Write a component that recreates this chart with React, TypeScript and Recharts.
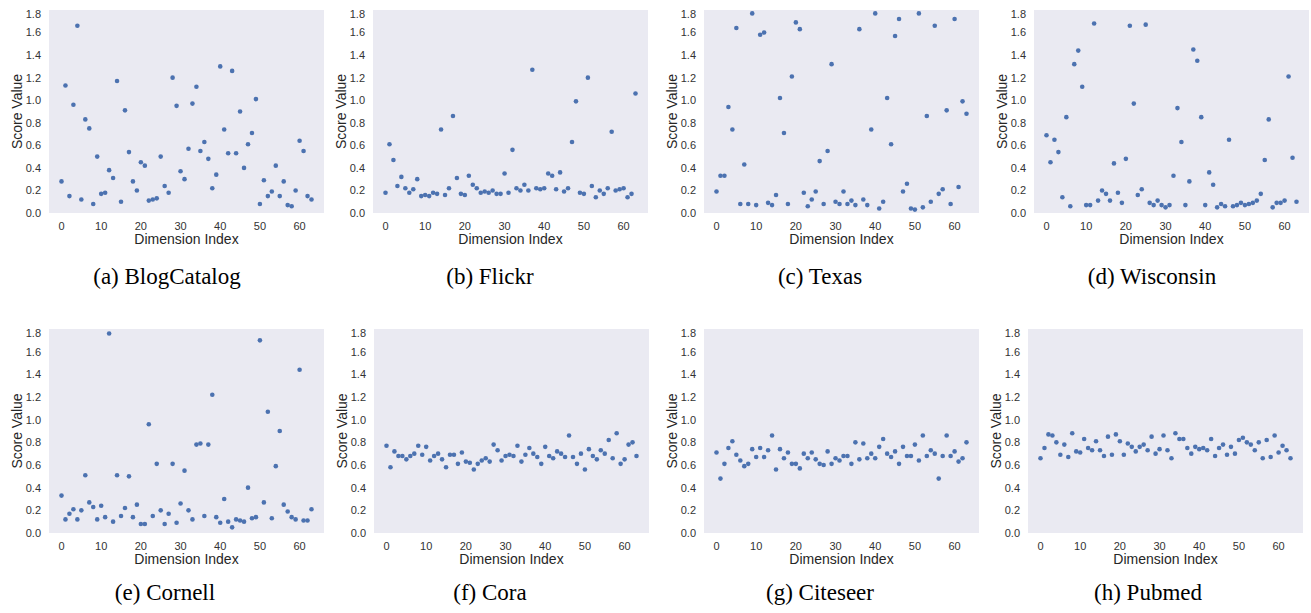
import React from 'react';
import { ScatterChart, Scatter, XAxis, YAxis, CartesianGrid } from 'recharts';

// score per embedding dimension (index 0..63)
const blogCatalog = [
  0.28, 1.13, 0.15, 0.96, 1.66, 0.12, 0.83, 0.75, 0.08, 0.5, 0.17, 0.18, 0.38, 0.31, 1.17, 0.1,
  0.91, 0.54, 0.28, 0.2, 0.45, 0.42, 0.11, 0.12, 0.13, 0.5, 0.24, 0.18, 1.2, 0.95, 0.37, 0.3,
  0.57, 0.97, 1.12, 0.55, 0.63, 0.48, 0.22, 0.34, 1.3, 0.74, 0.53, 1.26, 0.53, 0.9, 0.4, 0.61,
  0.71, 1.01, 0.08, 0.29, 0.15, 0.19, 0.42, 0.15, 0.28, 0.07, 0.06, 0.2, 0.64, 0.55, 0.15, 0.12,
];
const flickr = [
  0.18, 0.61, 0.47, 0.24, 0.32, 0.22, 0.18, 0.21, 0.3, 0.15, 0.16, 0.15, 0.18, 0.17, 0.74, 0.16,
  0.22, 0.86, 0.31, 0.17, 0.16, 0.33, 0.25, 0.22, 0.18, 0.19, 0.18, 0.2, 0.17, 0.17, 0.35, 0.18,
  0.56, 0.22, 0.2, 0.25, 0.2, 1.27, 0.22, 0.21, 0.22, 0.35, 0.33, 0.21, 0.36, 0.19, 0.22, 0.63,
  0.99, 0.18, 0.17, 1.2, 0.24, 0.14, 0.2, 0.17, 0.22, 0.72, 0.2, 0.21, 0.22, 0.14, 0.17, 1.06,
];
const texas = [
  0.19, 0.33, 0.33, 0.94, 0.74, 1.64, 0.08, 0.43, 0.08, 1.77, 0.07, 1.58, 1.6, 0.09, 0.07, 0.16,
  1.02, 0.71, 0.08, 1.21, 1.69, 1.63, 0.18, 0.06, 0.12, 0.19, 0.46, 0.08, 0.55, 1.32, 0.1, 0.08,
  0.19, 0.08, 0.11, 0.07, 1.63, 0.12, 0.07, 0.74, 1.77, 0.04, 0.1, 1.02, 0.61, 1.57, 1.72, 0.19,
  0.26, 0.04, 0.03, 1.77, 0.05, 0.86, 0.1, 1.66, 0.17, 0.21, 0.91, 0.08, 1.72, 0.23, 0.99, 0.88,
];
const wisconsin = [
  0.69, 0.45, 0.65, 0.54, 0.14, 0.85, 0.06, 1.32, 1.44, 1.12, 0.07, 0.07, 1.68, 0.11, 0.2, 0.17,
  0.11, 0.44, 0.18, 0.09, 0.48, 1.66, 0.97, 0.16, 0.21, 1.67, 0.09, 0.07, 0.11, 0.07, 0.05, 0.07,
  0.33, 0.93, 0.63, 0.07, 0.28, 1.45, 1.35, 0.85, 0.07, 0.36, 0.25, 0.05, 0.08, 0.06, 0.65, 0.06,
  0.07, 0.09, 0.07, 0.08, 0.09, 0.11, 0.17, 0.47, 0.83, 0.05, 0.09, 0.09, 0.11, 1.21, 0.49, 0.1,
];
const cornell = [
  0.33, 0.12, 0.17, 0.21, 0.12, 0.2, 0.51, 0.27, 0.23, 0.12, 0.24, 0.14, 1.76, 0.1, 0.51, 0.15,
  0.22, 0.5, 0.14, 0.25, 0.08, 0.08, 0.96, 0.15, 0.61, 0.2, 0.08, 0.17, 0.61, 0.09, 0.26, 0.55,
  0.2, 0.12, 0.78, 0.79, 0.15, 0.78, 1.22, 0.14, 0.09, 0.3, 0.1, 0.05, 0.12, 0.11, 0.1, 0.4,
  0.13, 0.14, 1.7, 0.27, 1.07, 0.13, 0.59, 0.9, 0.25, 0.19, 0.14, 0.12, 1.44, 0.11, 0.11, 0.21,
];
const cora = [
  0.77, 0.58, 0.72, 0.68, 0.68, 0.65, 0.68, 0.7, 0.77, 0.69, 0.76, 0.64, 0.68, 0.7, 0.65, 0.58,
  0.69, 0.69, 0.61, 0.71, 0.63, 0.62, 0.56, 0.61, 0.64, 0.66, 0.63, 0.78, 0.73, 0.64, 0.68, 0.69,
  0.68, 0.77, 0.63, 0.69, 0.75, 0.7, 0.67, 0.61, 0.76, 0.68, 0.66, 0.72, 0.7, 0.67, 0.86, 0.67,
  0.61, 0.7, 0.56, 0.74, 0.68, 0.65, 0.73, 0.7, 0.82, 0.66, 0.88, 0.61, 0.65, 0.78, 0.8, 0.68,
];
const citeseer = [
  0.71, 0.48, 0.61, 0.75, 0.81, 0.69, 0.64, 0.59, 0.61, 0.74, 0.67, 0.75, 0.67, 0.73, 0.86, 0.56,
  0.74, 0.66, 0.71, 0.61, 0.61, 0.57, 0.7, 0.66, 0.71, 0.65, 0.61, 0.6, 0.72, 0.61, 0.66, 0.64,
  0.68, 0.68, 0.61, 0.8, 0.65, 0.79, 0.66, 0.7, 0.66, 0.76, 0.83, 0.7, 0.67, 0.72, 0.61, 0.76,
  0.68, 0.68, 0.78, 0.64, 0.86, 0.68, 0.73, 0.7, 0.48, 0.68, 0.86, 0.68, 0.72, 0.63, 0.66, 0.8,
];
const pubmed = [
  0.66, 0.75, 0.87, 0.86, 0.8, 0.69, 0.78, 0.67, 0.88, 0.72, 0.71, 0.83, 0.75, 0.73, 0.81, 0.73,
  0.68, 0.85, 0.69, 0.87, 0.81, 0.69, 0.79, 0.76, 0.72, 0.76, 0.78, 0.73, 0.85, 0.7, 0.74, 0.86,
  0.73, 0.66, 0.88, 0.83, 0.83, 0.75, 0.7, 0.76, 0.74, 0.75, 0.73, 0.83, 0.68, 0.75, 0.78, 0.69,
  0.76, 0.7, 0.82, 0.84, 0.8, 0.78, 0.73, 0.8, 0.66, 0.82, 0.67, 0.86, 0.71, 0.77, 0.73, 0.66,
];

const xTicks = [0, 10, 20, 30, 40, 50, 60];
const yTicks = [0, 0.2, 0.4, 0.6, 0.8, 1.0, 1.2, 1.4, 1.6, 1.8];

const panels = [
  { caption: '(a) BlogCatalog', values: blogCatalog, plotLeft: 49, plotTop: 10, plotH: 203, capX: 167, capY: 277 },
  { caption: '(b) Flickr', values: flickr, plotLeft: 373, plotTop: 10, plotH: 203, capX: 490, capY: 277 },
  { caption: '(c) Texas', values: texas, plotLeft: 703.5, plotTop: 10, plotH: 203, capX: 820, capY: 277 },
  { caption: '(d) Wisconsin', values: wisconsin, plotLeft: 1034, plotTop: 10, plotH: 203, capX: 1152, capY: 277 },
  { caption: '(e) Cornell', values: cornell, plotLeft: 49, plotTop: 329, plotH: 204, capX: 165, capY: 593 },
  { caption: '(f) Cora', values: cora, plotLeft: 373.5, plotTop: 329, plotH: 204, capX: 490, capY: 593 },
  { caption: '(g) Citeseer', values: citeseer, plotLeft: 703.5, plotTop: 329, plotH: 204, capX: 820, capY: 593 },
  { caption: '(h) Pubmed', values: pubmed, plotLeft: 1027.5, plotTop: 329, plotH: 204, capX: 1148, capY: 593 },
];

const PLOT_W = 275;
const Y_AXIS_W = 50;
const X_AXIS_H = 31;
const MARGIN_TOP = 2;
const MARGIN_BOTTOM = 8;
const SANS = '"Liberation Sans", Arial, sans-serif';
const tickStyle = { fontSize: 11, fill: '#333', fontFamily: SANS };

const Dot = (props: any) => <circle cx={props.cx} cy={props.cy} r={2.3} fill="#4C72B0" />;

const Panel = ({ p }: { p: (typeof panels)[number] }) => {
  const data = p.values.map((v, i) => ({ dim: i, score: v }));
  const width = Y_AXIS_W + PLOT_W + 2;
  const height = MARGIN_TOP + p.plotH + X_AXIS_H + MARGIN_BOTTOM;
  return (
    <div style={{ position: 'absolute', left: p.plotLeft - Y_AXIS_W, top: p.plotTop - MARGIN_TOP }}>
      <ScatterChart width={width} height={height} margin={{ top: MARGIN_TOP, right: 2, bottom: MARGIN_BOTTOM, left: 0 }}>
        <CartesianGrid fill="#EAEAF2" fillOpacity={1} horizontal={false} vertical={false} />
        <XAxis
          type="number"
          dataKey="dim"
          domain={[-3.15, 66.15]}
          ticks={xTicks}
          height={X_AXIS_H}
          tickLine={false}
          axisLine={false}
          tickMargin={3}
          tick={tickStyle}
          label={{ value: 'Dimension Index', position: 'insideBottom', offset: 0, fontSize: 14, fill: '#262626', fontFamily: SANS }}
        />
        <YAxis
          type="number"
          dataKey="score"
          domain={[0, 1.8]}
          ticks={yTicks}
          width={Y_AXIS_W}
          tickLine={false}
          axisLine={false}
          tick={tickStyle}
          tickFormatter={(v: number) => v.toFixed(1)}
          label={{ value: 'Score Value', angle: -90, position: 'center', dx: -7, fontSize: 14, fill: '#262626', fontFamily: SANS }}
        />
        <Scatter data={data} shape={Dot} isAnimationActive={false} />
      </ScatterChart>
    </div>
  );
};

export default function App() {
  return (
    <div style={{ position: 'absolute', left: 0, top: 0, width: 1311, height: 613, background: '#fff' }}>
      {panels.map((p) => (
        <React.Fragment key={p.caption}>
          <Panel p={p} />
          <div
            style={{
              position: 'absolute',
              left: p.capX - 150,
              top: p.capY - 13,
              width: 300,
              lineHeight: '26px',
              textAlign: 'center',
              fontFamily: '"Liberation Serif", "Times New Roman", serif',
              fontSize: 23,
              color: '#000',
            }}
          >
            {p.caption}
          </div>
        </React.Fragment>
      ))}
    </div>
  );
}
